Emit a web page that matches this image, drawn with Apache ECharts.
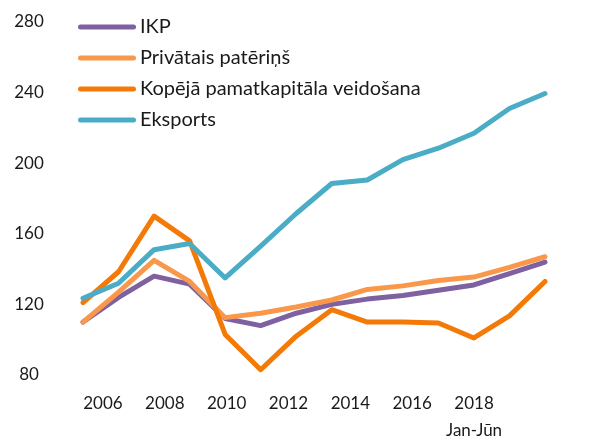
<!DOCTYPE html>
<html>
<head>
<meta charset="utf-8">
<script src="https://cdn.jsdelivr.net/npm/echarts@6/dist/echarts.min.js"></script>
<style>
  html, body { margin: 0; padding: 0; background: #fff; }
  #main { width: 600px; height: 437px; }
</style>
</head>
<body>
<div id="main"></div>
<script>
// gadi (punkti) un x ass etiķetes
var years = ['2005','2006','2007','2008','2009','2010','2011','2012','2013','2014','2015','2016','2017','2018'];
var yearLabels = ['2006','2008','2010','2012','2014','2016','2018\nJan-Jūn'];

// indeksi
var ikp = [110, 124, 136, 131.5, 112, 108, 115, 120, 123, 125, 128, 131, 137.5, 144];
var privatais = [110, 127, 145, 133, 112.5, 115, 118.5, 122.5, 128.5, 130.5, 133.5, 135.5, 141, 147];
var kopeja = [121, 138.5, 170, 156, 103, 83, 102, 117, 110, 110, 109.5, 101, 113.5, 133];
var eksports = [123.5, 132, 151, 154.5, 135, 153, 171.5, 188.5, 190.5, 202, 208.5, 217, 231, 239.5];

var FONT = 'Lato';
var capsule = 'path://M2.5,0 L55.5,0 A2.5,2.5 0 0 1 55.5,5 L2.5,5 A2.5,2.5 0 0 1 2.5,0 Z';

var myChart = echarts.init(document.getElementById('main'));

function line(name, data, color) {
  return {
    name: name,
    type: 'line',
    data: data,
    xAxisIndex: 0,
    yAxisIndex: 0,
    symbol: 'none',
    lineStyle: { color: color, width: 5, cap: 'round', join: 'round' },
    itemStyle: { color: color },
    animation: false
  };
}

myChart.setOption({
  animation: false,
  legend: {
    orient: 'vertical',
    left: 73,
    top: 12,
    itemWidth: 58,
    itemHeight: 5,
    itemGap: 11,
    icon: capsule,
    textStyle: { fontFamily: FONT, fontSize: 20, lineHeight: 20, color: '#1a1a1a', padding: [0, 0, 0, -1] },
    data: ['IKP', 'Privātais patēriņš', 'Kopējā pamatkapitāla veidošana', 'Eksports']
  },
  grid: [
    { left: 83, right: 55, top: 22, bottom: 62, outerBoundsMode: 'none' },
    { left: 72, right: 95, top: 22, bottom: 62, outerBoundsMode: 'none' }
  ],
  xAxis: [
    {
      type: 'category',
      gridIndex: 0,
      data: years,
      boundaryGap: false,
      axisLine: { show: false },
      axisTick: { show: false },
      axisLabel: { show: false }
    },
    {
      type: 'category',
      gridIndex: 1,
      data: yearLabels,
      boundaryGap: true,
      axisLine: { show: false },
      axisTick: { show: false },
      axisLabel: {
        fontFamily: FONT,
        fontSize: 17,
        color: '#1a1a1a',
        margin: 15,
        lineHeight: 27,
        interval: 0
      }
    }
  ],
  yAxis: [
    {
      type: 'value',
      gridIndex: 0,
      min: 80,
      max: 280,
      interval: 40,
      splitLine: { show: false },
      axisLine: { show: false },
      axisTick: { show: false },
      axisLabel: {
        fontFamily: FONT,
        fontSize: 17,
        color: '#1a1a1a',
        align: 'center',
        margin: 54
      }
    },
    {
      type: 'value',
      gridIndex: 1,
      show: false
    }
  ],
  series: [
    line('IKP', ikp, '#7f60a0'),
    line('Privātais patēriņš', privatais, '#f9984a'),
    line('Kopējā pamatkapitāla veidošana', kopeja, '#f47a08'),
    line('Eksports', eksports, '#4bacc6')
  ]
});
</script>
</body>
</html>
